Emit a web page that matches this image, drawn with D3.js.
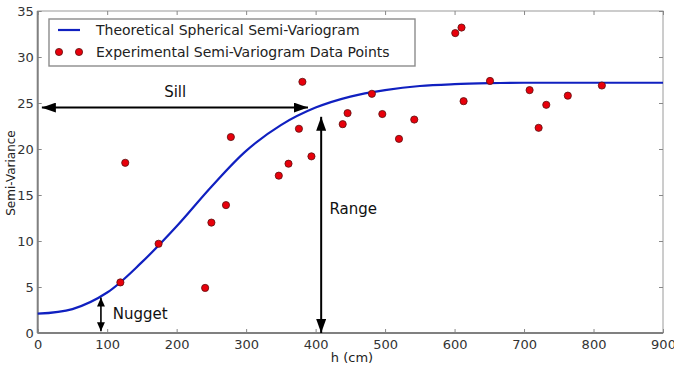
<!DOCTYPE html>
<html>
<head>
<meta charset="utf-8">
<script src="https://cdn.jsdelivr.net/npm/d3@7"></script>
<style>
body { margin: 0; background: #fff; }
text { font-family: "DejaVu Sans", sans-serif; }
</style>
</head>
<body>
<svg id="chart" width="674" height="367"></svg>
<script>
// theoretical curve
var curveH = [0, 50, 100, 150, 200, 250, 300, 350, 400, 450, 500, 550, 600, 650, 700, 800, 900];
var curveV = [2.1, 2.6, 4.4, 7.7, 11.6, 15.9, 19.8, 22.6, 24.5, 25.7, 26.4, 26.85, 27.05, 27.15, 27.2, 27.2, 27.2];

// experimental points
var pointH = [119, 126, 174, 241, 250, 271, 278, 347, 361, 376, 381, 394, 439, 446, 481, 496, 520, 542, 601, 610, 613, 651, 708, 721, 732, 763, 812];
var pointV = [5.5, 18.5, 9.7, 4.9, 12.0, 13.9, 21.3, 17.1, 18.4, 22.2, 27.3, 19.2, 22.7, 23.9, 26.0, 23.8, 21.1, 23.2, 32.6, 33.2, 25.2, 27.4, 26.4, 22.3, 24.8, 25.8, 26.9];

var xTicks = d3.range(0, 901, 100);
var yTicks = d3.range(0, 36, 5);

var legendLabels = ['Theoretical Spherical Semi-Variogram', 'Experimental Semi-Variogram Data Points'];

var svg = d3.select('#chart');
var pLeft = 37.7, pRight = 663, pTop = 11, pBottom = 333;

var x = d3.scaleLinear().domain([0, 900]).range([pLeft, pRight]);
var y = d3.scaleLinear().domain([0, 35]).range([pBottom, pTop]);

// arrow markers
var defs = svg.append('defs');
function marker(id, len, wid) {
	defs.append('marker').attr('id', id)
		.attr('markerUnits', 'userSpaceOnUse')
		.attr('markerWidth', len).attr('markerHeight', wid)
		.attr('refX', len).attr('refY', wid/2)
		.attr('orient', 'auto-start-reverse')
		.append('path').attr('d', 'M0,0 L' + len + ',' + (wid/2) + ' L0,' + wid + ' Z').attr('fill', '#000');
}
marker('big', 14, 10);
marker('small', 9, 8);

// frame
svg.append('rect').attr('x', pLeft).attr('y', pTop).attr('width', pRight-pLeft).attr('height', pBottom-pTop)
	.attr('fill', 'none').attr('stroke', '#9a9a9a').attr('stroke-width', 1);

// ticks, inward
var xAxis = svg.append('g').attr('transform', 'translate(0,' + pBottom + ')')
	.call(d3.axisBottom(x).tickValues(xTicks).tickSize(-4).tickPadding(7).tickFormat(d3.format('d')));
var xAxisTop = svg.append('g').attr('transform', 'translate(0,' + pTop + ')')
	.call(d3.axisTop(x).tickValues(xTicks).tickSize(-4).tickFormat(''));
var yAxis = svg.append('g').attr('transform', 'translate(' + pLeft + ',0)')
	.call(d3.axisLeft(y).tickValues(yTicks).tickSize(-4).tickPadding(4).tickFormat(d3.format('d')));
var yAxisRight = svg.append('g').attr('transform', 'translate(' + pRight + ',0)')
	.call(d3.axisRight(y).tickValues(yTicks).tickSize(-4).tickFormat(''));
[xAxis, xAxisTop, yAxis, yAxisRight].forEach(function(g) {
	g.select('.domain').remove();
	g.selectAll('line').attr('stroke', '#888');
	g.selectAll('text').attr('font-size', 13).attr('fill', '#333').attr('font-family', '"DejaVu Sans", sans-serif');
});

// thicker left and bottom spines
svg.append('line').attr('x1', pLeft).attr('x2', pLeft).attr('y1', pTop).attr('y2', pBottom)
	.attr('stroke', '#808080').attr('stroke-width', 2);
svg.append('line').attr('x1', pLeft).attr('x2', pRight).attr('y1', pBottom).attr('y2', pBottom)
	.attr('stroke', '#808080').attr('stroke-width', 2);

// axis titles
svg.append('text').attr('x', 352).attr('y', 362).attr('text-anchor', 'middle')
	.attr('font-size', 13).attr('fill', '#222').text('h (cm)');
svg.append('text').attr('transform', 'translate(15,173) rotate(-90)').attr('text-anchor', 'middle')
	.attr('font-size', 12).attr('fill', '#222').text('Semi-Variance');

// curve
var curveData = curveH.map(function(h, i) { return [h, curveV[i]]; });
svg.append('path').datum(curveData)
	.attr('d', d3.line().x(d => x(d[0])).y(d => y(d[1])).curve(d3.curveCatmullRom.alpha(0.5)))
	.attr('fill', 'none').attr('stroke', '#1020c0').attr('stroke-width', 2.2);

// points
svg.selectAll('circle.pt').data(pointH.map(function(h, i) { return [h, pointV[i]]; })).enter()
	.append('circle').attr('class', 'pt')
	.attr('cx', d => x(d[0])).attr('cy', d => y(d[1])).attr('r', 3.6)
	.attr('fill', '#e8000b').attr('stroke', '#5a1010').attr('stroke-width', 0.8);

// annotations
function arrow(h1, v1, h2, v2, m) {
	svg.append('line').attr('x1', x(h1)).attr('y1', y(v1)).attr('x2', x(h2)).attr('y2', y(v2))
		.attr('stroke', '#000').attr('stroke-width', m == 'big' ? 2 : 1.6)
		.attr('marker-start', 'url(#' + m + ')').attr('marker-end', 'url(#' + m + ')');
}
arrow(6, 24.5, 389, 24.5, 'big');
arrow(408, 23.5, 408, 0, 'big');
arrow(91, 3.85, 91, 0.2, 'small');

function note(h, v, s) {
	svg.append('text').attr('x', x(h)).attr('y', y(v)).attr('font-size', 15)
		.attr('font-family', '"Open Sans", sans-serif').attr('fill', '#111').text(s);
}
note(182, 25.6, 'Sill');
note(420, 12.9, 'Range');
note(108, 1.5, 'Nugget');

// legend
var lg = svg.append('g');
lg.append('rect').attr('x', 49).attr('y', 19).attr('width', 366).attr('height', 47)
	.attr('fill', '#fff').attr('stroke', '#8c8c8c').attr('stroke-width', 1.4);
lg.append('line').attr('x1', 58).attr('x2', 80).attr('y1', 30).attr('y2', 30)
	.attr('stroke', '#1020c0').attr('stroke-width', 2.2);
[59, 79].forEach(function(cx) {
	lg.append('circle').attr('cx', cx).attr('cy', 52).attr('r', 3.6)
		.attr('fill', '#e8000b').attr('stroke', '#5a1010').attr('stroke-width', 0.8);
});
lg.selectAll('text.lab').data(legendLabels).enter().append('text').attr('class', 'lab')
	.attr('x', 96).attr('y', (d, i) => 35 + i*22).attr('font-size', 14).attr('fill', '#222').text(d => d);
</script>
</body>
</html>
